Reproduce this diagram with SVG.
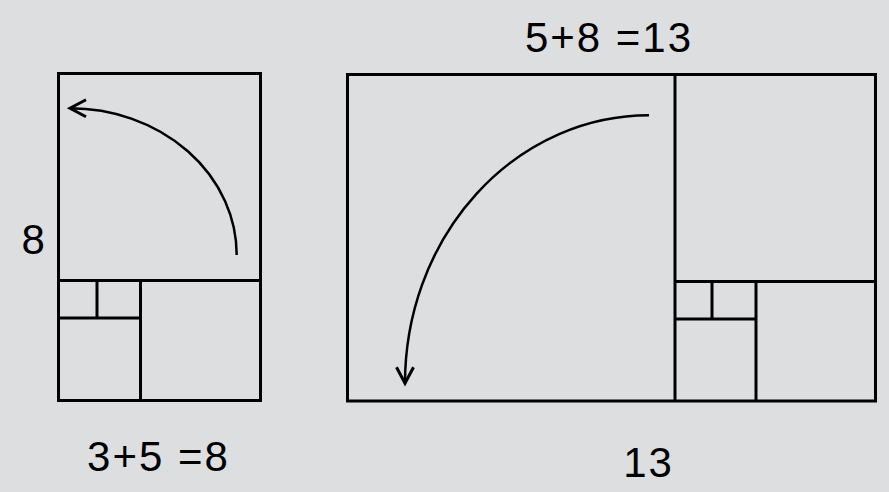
<svg xmlns="http://www.w3.org/2000/svg" width="889" height="492" viewBox="0 0 889 492">
  <style>
    .ln { fill: none; stroke: #000; stroke-width: 3; }
    .arc { fill: none; stroke: #000; stroke-width: 2.5; }
    .lbl { font-family: "Liberation Sans", Arial, sans-serif; font-size: 42px; fill: #000; text-anchor: middle; letter-spacing: 2px; }
  </style>
  <defs>
    <marker id="arr" markerUnits="userSpaceOnUse" viewBox="-20 -12 24 24" markerWidth="24" markerHeight="24" refX="0" refY="0" orient="auto">
      <path d="M-16,-8.5 L0,0 L-16,8.5" fill="none" stroke="#000" stroke-width="3" stroke-linejoin="miter"/>
    </marker>
  </defs>
  <rect width="889" height="492" fill="#dddee0"/>

  <g id="left-figure">
    <rect class="ln" x="58.5" y="73.5" width="202" height="327"/>
    <line class="ln" x1="58.5" y1="280.5" x2="260.5" y2="280.5"/>
    <line class="ln" x1="140.5" y1="280.5" x2="140.5" y2="400.5"/>
    <line class="ln" x1="58.5" y1="318" x2="140.5" y2="318"/>
    <line class="ln" x1="97" y1="280.5" x2="97" y2="318"/>
  </g>

  <g id="right-figure">
    <rect class="ln" x="347.5" y="74.5" width="528" height="326.5"/>
    <line class="ln" x1="675" y1="74.5" x2="675" y2="401"/>
    <line class="ln" x1="675" y1="281.5" x2="875.5" y2="281.5"/>
    <line class="ln" x1="756" y1="281.5" x2="756" y2="401"/>
    <line class="ln" x1="675" y1="319" x2="756" y2="319"/>
    <line class="ln" x1="712" y1="281.5" x2="712" y2="319"/>
  </g>

  <g id="connectors">
    <path class="arc" d="M236.7,255 A166.7,146.7 0 0 0 70,108.3" marker-end="url(#arr)"/>
    <path class="arc" d="M649,115.3 A244,268 0 0 0 405,383.3" marker-end="url(#arr)"/>
  </g>

  <g id="labels">
    <text class="lbl" x="609" y="52">5+8 =13</text>
    <text class="lbl" x="158.5" y="471">3+5 =8</text>
    <text class="lbl" x="648.5" y="477">13</text>
    <text class="lbl" x="34.3" y="254">8</text>
  </g>
</svg>
